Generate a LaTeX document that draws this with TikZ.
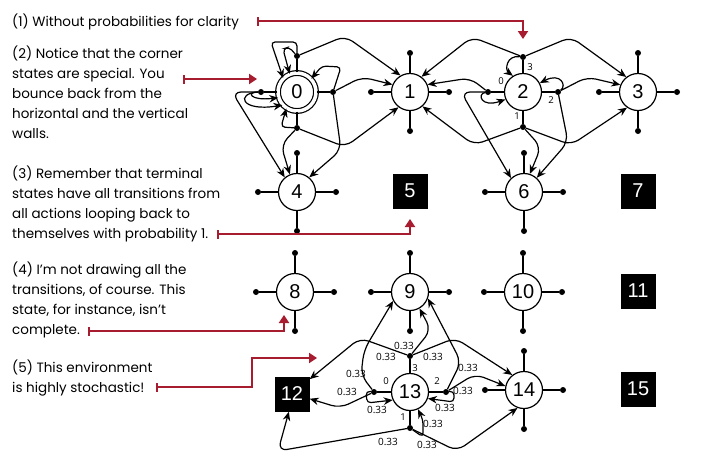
\documentclass[tikz,border=0pt]{standalone}
\usepackage{fontspec}
\setmainfont{Poppins}
\newfontfamily\numfont{Liberation Sans}
\newfontfamily\lblfont{Open Sans}
\usetikzlibrary{arrows.meta}
\definecolor{calloutred}{RGB}{168,28,48}
\tikzset{
 st/.style={circle,draw,line width=1.2pt,minimum size=37pt,inner sep=0pt,font=\numfont\fontsize{20}{20}\selectfont},
 term/.style={fill=black,text=white,minimum size=35pt,inner sep=0pt,font=\numfont\fontsize{20}{20}\selectfont},
 dotn/.style={circle,fill=black,minimum size=6pt,inner sep=0pt},
 spoke/.style={line width=1.2pt},
 tr/.style={line width=1.2pt,-{Stealth[length=9pt,width=7.5pt]},rounded corners=9pt},
 lp/.style={tr,rounded corners=4pt},
 pr/.style={font=\lblfont\fontsize{10}{10}\selectfont,inner sep=0pt},
 act/.style={font=\lblfont\fontsize{9.5}{10}\selectfont,inner sep=0pt},
 note/.style={anchor=base west,align=left,font=\fontsize{13.5}{20}\selectfont,inner sep=0pt},
 callout/.style={draw=calloutred,line width=2pt,{Bar[width=9pt]}-{Triangle[length=8pt,width=10pt]}}
}
\begin{document}
\begin{tikzpicture}[x=1pt,y=-1pt]
\fill[white] (0,0) rectangle (726,467);
\useasboundingbox (0,0) rectangle (726,467);

% states
\node[st,double,double distance=3.5pt,minimum size=38pt] (s0) at (297,92) {0};
\node[st] (s1) at (410,92) {1};
\node[st] (s2) at (523,92) {2};
\node[st] (s3) at (638,92) {3};
\node[st] (s4) at (297,192) {4};
\node[term] (s5) at (410,191) {5};
\node[st] (s6) at (524,192) {6};
\node[term] (s7) at (638,191) {7};
\node[st] (s8) at (295,292) {8};
\node[st] (s9) at (410,292) {9};
\node[st] (s10) at (523,292) {10};
\node[term] (s11) at (638,291) {11};
\node[term] (s12) at (292,394) {12};
\node[st] (s13) at (410,392) {13};
\node[st] (s14) at (524,390) {14};
\node[term] (s15) at (638,389) {15};

% spokes
\foreach \n/\x/\y/\d in {0/297/92/36, 1/410/92/39, 2/523/92/35, 3/638/92/39, 4/297/192/39, 6/524/192/39, 8/295/292/39, 9/410/292/39, 10/523/292/39, 13/410/392/36, 14/524/390/39}{
  \node[dotn] (s\n-t) at (\x,\y-\d) {};
  \node[dotn] (s\n-b) at (\x,\y+\d) {};
  \node[dotn] (s\n-l) at (\x-\d,\y) {};
  \node[dotn] (s\n-r) at (\x+\d,\y) {};
  \draw[spoke] (s\n) -- (s\n-t);
  \draw[spoke] (s\n) -- (s\n-b);
  \draw[spoke] (s\n) -- (s\n-l);
  \draw[spoke] (s\n) -- (s\n-r);
}

% transitions of state 0
\draw[lp] (s0-t) -- (297,42) -- (271,42) -- (s0.135);
\draw[lp] (s0-t) -- (289,47) -- (283,49) -- (s0.112);
\draw[tr] (s0-t) -- (345,36) -- (s1.120);
\draw[lp] (s0-r) -- (341,67) -- (322,66) -- (s0.43);
\draw[tr] (s0-r) -- (362,77) -- (s1.157);
\draw[tr] (s0-r) -- (341,150) -- (s4.50);
\draw[lp] (s0-b) -- (281,127) -- (s0.237);
\draw[tr] (s0-b) -- (345,147) -- (s1.233);
\draw[tr] (s0-b) -- (281,145) -- (s4.112);
\draw[lp] (s0-l) .. controls (246,92) and (250,101) .. (s0.197);
\draw[lp] (s0-l) .. controls (236,93) and (240,112) .. (s0.222);
\draw[tr] (s0-l) -- (232,92) -- (s4.130);

% transitions of state 2
\draw[lp] (s2-t) .. controls (506,55) and (505,70) .. (s2.122);
\draw[tr] (s2-t) -- (472,37) -- (s1.53);
\draw[tr] (s2-t) -- (571,37) -- (s3.128);
\draw[lp] (s2-r) .. controls (567,86) and (561,72) .. (s2.28);
\draw[tr] (s2-r) -- (587,77) -- (s3.158);
\draw[tr] (s2-r) -- (568,142) -- (s6.48);
\draw[lp] (s2-l) .. controls (477,94) and (481,108) .. (s2.203);
\draw[tr] (s2-l) -- (470,78) -- (s1.23);
\draw[tr] (s2-l) -- (461,92) -- (s6.133);
\draw[tr] (s2-b) -- (541,147) -- (s6.72);
\draw[tr] (s2-b) -- (474,145) -- (s1.311);
\draw[tr] (s2-b) -- (571,145) -- (s3.235);
\node[act] at (530,67) {3};
\node[act] at (501,81) {0};
\node[act] at (551,100) {2};
\node[act] at (517,116) {1};

% transitions of state 13
\draw[tr] (s13-t) -- (360,338) -- (s12.40);
\draw[tr] (s13-t) -- (431,330) -- (s9.300);
\draw[tr] (s13-t) -- (455,338) -- (s14.128);
\draw[tr] (s13-l) -- (361,375) -- (364,350) -- (s9.208);
\draw[tr] (s13-l) -- (340,408) -- (s12.-15);
\draw[lp] (s13-l) -- (366,391) -- (367,403) -- (s13.205);
\draw[tr] (s13-r) -- (461,362) -- (s9.340);
\draw[tr] (s13-r) -- (475,374) -- (s14.168);
\draw[lp] (s13-r) -- (454,391) -- (454,402) -- (s13.340);
\draw[lp] (s13-b) -- (423,437) -- (423,420) -- (s13.295);
\draw[tr] (s13-b) -- (457,451) -- (s14.250);
\draw[tr] (s13-b) -- (278,451) -- (s12.-100);
\node[act] at (386,381) {0};
\node[act] at (415,368) {3};
\node[act] at (437,381) {2};
\node[act] at (403,417) {1};
\node[pr] at (404,346) {0.33};
\node[pr] at (386,357) {0.33};
\node[pr] at (433,357) {0.33};
\node[pr] at (356,374) {0.33};
\node[pr] at (347,392) {0.33};
\node[pr] at (377,410) {0.33};
\node[pr] at (468,368) {0.33};
\node[pr] at (463,391) {0.33};
\node[pr] at (445,408) {0.33};
\node[pr] at (433,424) {0.33};
\node[pr] at (427,445) {0.33};
\node[pr] at (388,442) {0.33};

% notes (anchored at the baseline of the last line)
\node[note] (n1) at (12,26) {(1) Without probabilities for clarity};
\node[note] (n2) at (12,138) {(2) Notice that the corner\\states are special. You\\bounce back from the\\horizontal and the vertical\\walls.};
\node[note] (n3) at (12,238) {(3) Remember that terminal\\states have all transitions from\\all actions looping back to\\themselves with probability 1.};
\node[note] (n4) at (12,334) {(4) I'm not drawing all the\\transitions, of course. This\\state, for instance, isn't\\complete.};
\node[note] (n5) at (12,392) {(5) This environment\\is highly stochastic!};

% callouts
\coordinate (c1a) at (257,21); \coordinate (c1b) at (523,39);
\coordinate (c2a) at (183,79); \coordinate (c2b) at (257,79);
\coordinate (c3a) at (217,234); \coordinate (c3b) at (410,219);
\coordinate (c4a) at (88,331); \coordinate (c4b) at (284,315);
\coordinate (c5a) at (156,387); \coordinate (c5b) at (317,358);
\draw[callout] (c1a) -- (c1b |- c1a) -- (c1b);
\draw[callout] (c2a) -- (c2b);
\draw[callout] (c3a) -- (c3b |- c3a) -- (c3b);
\draw[callout] (c4a) -- (c4b |- c4a) -- (c4b);
\draw[callout] (c5a) -- (252,387) -- (252,358) -- (c5b);
\end{tikzpicture}
\end{document}
